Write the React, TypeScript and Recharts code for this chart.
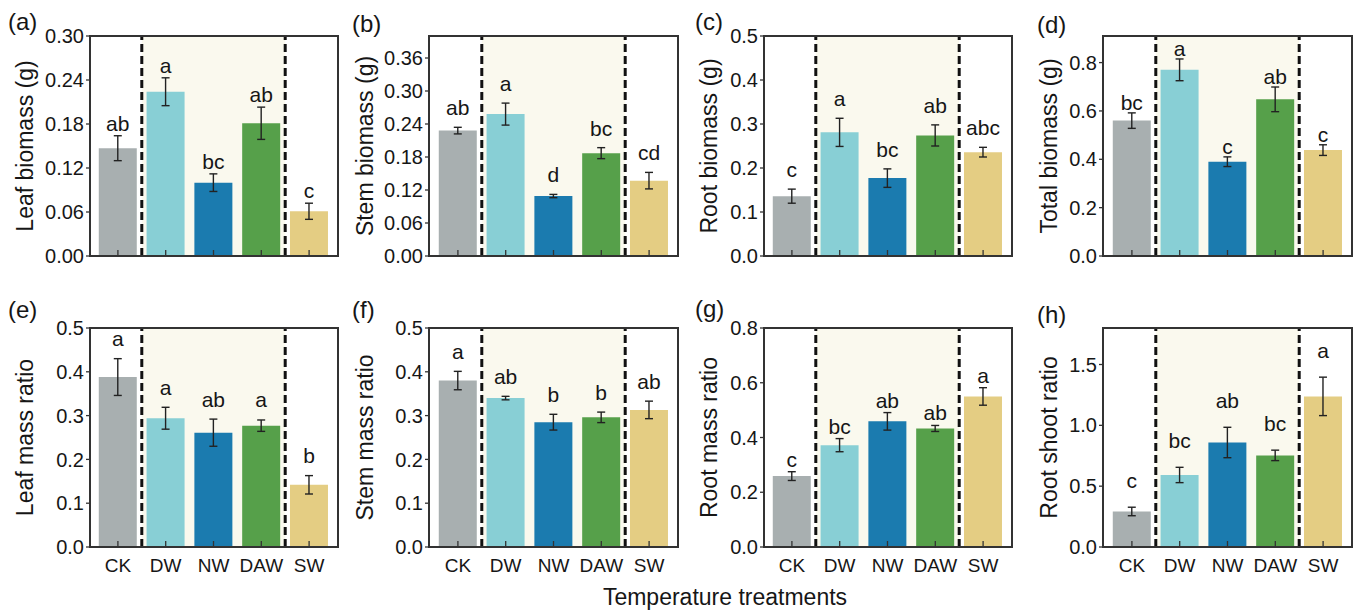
import React from 'react';
import {
  BarChart,
  Bar,
  XAxis,
  YAxis,
  ErrorBar,
  Cell,
  ReferenceLine,
  ReferenceArea,
  LabelList,
} from 'recharts';

// ---------- data ----------
const categories = ['CK', 'DW', 'NW', 'DAW', 'SW'];
const barColors = ['#A8AFB0', '#88CFD5', '#1B7BAF', '#56A04A', '#E4CD83'];

const leafBiomass = [0.147, 0.224, 0.1, 0.181, 0.061];
const leafBiomassErr = [0.017, 0.019, 0.012, 0.022, 0.011];
const leafBiomassLetters = ['ab', 'a', 'bc', 'ab', 'c'];
const leafBiomassTicks = [0, 0.06, 0.12, 0.18, 0.24, 0.3];

const stemBiomass = [0.228, 0.258, 0.109, 0.187, 0.137];
const stemBiomassErr = [0.006, 0.02, 0.003, 0.01, 0.015];
const stemBiomassLetters = ['ab', 'a', 'd', 'bc', 'cd'];
const stemBiomassTicks = [0, 0.06, 0.12, 0.18, 0.24, 0.3, 0.36];

const rootBiomass = [0.136, 0.281, 0.177, 0.274, 0.236];
const rootBiomassErr = [0.016, 0.032, 0.021, 0.024, 0.011];
const rootBiomassLetters = ['c', 'a', 'bc', 'ab', 'abc'];
const rootBiomassTicks = [0, 0.1, 0.2, 0.3, 0.4, 0.5];

const totalBiomass = [0.56, 0.77, 0.39, 0.648, 0.438];
const totalBiomassErr = [0.032, 0.045, 0.02, 0.051, 0.022];
const totalBiomassLetters = ['bc', 'a', 'c', 'ab', 'c'];
const totalBiomassTicks = [0, 0.2, 0.4, 0.6, 0.8];

const leafMassRatio = [0.388, 0.294, 0.261, 0.277, 0.142];
const leafMassRatioErr = [0.042, 0.025, 0.031, 0.013, 0.021];
const leafMassRatioLetters = ['a', 'a', 'ab', 'a', 'b'];
const leafMassRatioTicks = [0, 0.1, 0.2, 0.3, 0.4, 0.5];

const stemMassRatio = [0.38, 0.34, 0.285, 0.296, 0.313];
const stemMassRatioErr = [0.021, 0.004, 0.018, 0.012, 0.02];
const stemMassRatioLetters = ['a', 'ab', 'b', 'b', 'ab'];
const stemMassRatioTicks = [0, 0.1, 0.2, 0.3, 0.4, 0.5];

const rootMassRatio = [0.259, 0.372, 0.459, 0.433, 0.55];
const rootMassRatioErr = [0.016, 0.024, 0.032, 0.011, 0.032];
const rootMassRatioLetters = ['c', 'bc', 'ab', 'ab', 'a'];
const rootMassRatioTicks = [0, 0.2, 0.4, 0.6, 0.8];

const rootShootRatio = [0.292, 0.592, 0.859, 0.753, 1.238];
const rootShootRatioErr = [0.035, 0.063, 0.125, 0.043, 0.158];
const rootShootRatioLetters = ['c', 'bc', 'ab', 'bc', 'a'];
const rootShootRatioTicks = [0, 0.5, 1.0, 1.5];

const xTitle = 'Temperature treatments';

// ---------- styles ----------
const FONT = '"Liberation Sans", Arial, "Helvetica", sans-serif';
const TEXT = '#161616';
const FRAME = '#333333';
const SHADE = '#FAF9EE';

type Panel = {
  tag: string;
  ylabel: string;
  mean: number[];
  err: number[];
  letters: string[];
  ticks: number[];
  max: number;
  digits: number;
  left: number;
  top: number;
  width: number;
  height: number;
  letterGap: number;
  yLabelOffset: number;
  tagX: number;
  tagY: number;
  showX: boolean;
  padL: number;
  padR: number;
};

const colLeft = [90, 429, 764, 1103];
const colWidth = [248, 249, 248, 249];
const rowTop = [36, 328];
const rowHeight = [220, 219];

const panels: Panel[] = [
  { tag: '(a)', ylabel: 'Leaf biomass (g)', mean: leafBiomass, err: leafBiomassErr, letters: leafBiomassLetters, ticks: leafBiomassTicks, max: 0.3, digits: 2, left: colLeft[0], top: rowTop[0], width: colWidth[0], height: rowHeight[0], letterGap: 5, yLabelOffset: 57, tagX: 8, tagY: 30, showX: false, padL: 4, padR: 5 },
  { tag: '(b)', ylabel: 'Stem biomass (g)', mean: stemBiomass, err: stemBiomassErr, letters: stemBiomassLetters, ticks: stemBiomassTicks, max: 0.4, digits: 2, left: colLeft[1], top: rowTop[0], width: colWidth[1], height: rowHeight[0], letterGap: 12, yLabelOffset: 56, tagX: 352, tagY: 32, showX: false, padL: 5, padR: 5 },
  { tag: '(c)', ylabel: 'Root biomass (g)', mean: rootBiomass, err: rootBiomassErr, letters: rootBiomassLetters, ticks: rootBiomassTicks, max: 0.5, digits: 1, left: colLeft[2], top: rowTop[0], width: colWidth[2], height: rowHeight[0], letterGap: 12, yLabelOffset: 47, tagX: 695, tagY: 30, showX: false, padL: 4, padR: 5 },
  { tag: '(d)', ylabel: 'Total biomass (g)', mean: totalBiomass, err: totalBiomassErr, letters: totalBiomassLetters, ticks: totalBiomassTicks, max: 0.91, digits: 1, left: colLeft[3], top: rowTop[0], width: colWidth[3], height: rowHeight[0], letterGap: 3, yLabelOffset: 46, tagX: 1037, tagY: 33, showX: false, padL: 5, padR: 5 },
  { tag: '(e)', ylabel: 'Leaf mass ratio', mean: leafMassRatio, err: leafMassRatioErr, letters: leafMassRatioLetters, ticks: leafMassRatioTicks, max: 0.5, digits: 1, left: colLeft[0], top: rowTop[1], width: colWidth[0], height: rowHeight[1], letterGap: 12.5, yLabelOffset: 57, tagX: 8, tagY: 318, showX: true, padL: 4, padR: 5 },
  { tag: '(f)', ylabel: 'Stem mass ratio', mean: stemMassRatio, err: stemMassRatioErr, letters: stemMassRatioLetters, ticks: stemMassRatioTicks, max: 0.5, digits: 1, left: colLeft[1], top: rowTop[1], width: colWidth[1], height: rowHeight[1], letterGap: 12.5, yLabelOffset: 56, tagX: 352, tagY: 318, showX: true, padL: 5, padR: 5 },
  { tag: '(g)', ylabel: 'Root mass ratio', mean: rootMassRatio, err: rootMassRatioErr, letters: rootMassRatioLetters, ticks: rootMassRatioTicks, max: 0.8, digits: 1, left: colLeft[2], top: rowTop[1], width: colWidth[2], height: rowHeight[1], letterGap: 5, yLabelOffset: 47, tagX: 695, tagY: 317, showX: true, padL: 4, padR: 5 },
  { tag: '(h)', ylabel: 'Root shoot ratio', mean: rootShootRatio, err: rootShootRatioErr, letters: rootShootRatioLetters, ticks: rootShootRatioTicks, max: 1.8, digits: 1, left: colLeft[3], top: rowTop[1], width: colWidth[3], height: rowHeight[1], letterGap: 19, yLabelOffset: 46, tagX: 1037, tagY: 323, showX: true, padL: 5, padR: 5 },
];

const AXIS_W = 80;
const MT = 10;
const MR = 6;

function PanelChart({ p }: { p: Panel }) {
  const data = categories.map((c, i) => ({
    cat: c,
    mean: p.mean[i],
    err: p.err[i],
    letter: p.letters[i],
  }));
  const xh = p.showX ? 40 : 12;
  const w = AXIS_W + p.width + MR;
  const h = MT + p.height + xh;

  const renderLetter = (props: any) => {
    const vb = props.viewBox && props.viewBox.width != null ? props.viewBox : props;
    const idx = props.index;
    const row = data[idx];
    if (!row) return null;
    const k = vb.height / row.mean;
    const top = vb.y - row.err * k - p.letterGap;
    return (
      <text
        x={vb.x + vb.width / 2}
        y={top}
        textAnchor="middle"
        fontSize={21}
        fontFamily={FONT}
        fill={TEXT}
      >
        {row.letter}
      </text>
    );
  };

  const renderYLabel = (props: any) => {
    const vb = props.viewBox || {};
    const x = vb.x + vb.width - p.yLabelOffset;
    const y = vb.y + vb.height / 2;
    return (
      <text
        x={x}
        y={y}
        transform={`rotate(-90, ${x}, ${y})`}
        textAnchor="middle"
        fontSize={23}
        fontFamily={FONT}
        fill={TEXT}
      >
        {p.ylabel}
      </text>
    );
  };

  const XTick = (props: any) => {
    const { x, y, payload } = props;
    return (
      <g>
        <line x1={x} x2={x} y1={y} y2={y - 6} stroke={FRAME} strokeWidth={1.3} />
        {p.showX && (
          <text x={x} y={y + 25} textAnchor="middle" fontSize={19} fontFamily={FONT} fill={TEXT}>
            {payload.value}
          </text>
        )}
      </g>
    );
  };

  return (
    <div style={{ position: 'absolute', left: p.left - AXIS_W, top: p.top - MT }}>
      <BarChart
        width={w}
        height={h}
        data={data}
        margin={{ top: MT, right: MR, left: 0, bottom: 0 }}
        barCategoryGap="10%"
      >
        <ReferenceArea x1="DW" x2="DAW" fill={SHADE} fillOpacity={1} stroke="none" ifOverflow="visible" />
        <Bar dataKey="mean" isAnimationActive={false}>
          {data.map((d, i) => (
            <Cell key={d.cat} fill={barColors[i]} />
          ))}
          <ErrorBar dataKey="err" width={4} strokeWidth={1.4} stroke="#222" direction="y" />
          <LabelList dataKey="letter" content={renderLetter} />
        </Bar>
        <ReferenceLine x="DW" position="start" stroke="#111" strokeWidth={3} strokeDasharray="8 4" />
        <ReferenceLine x="SW" position="start" stroke="#111" strokeWidth={3} strokeDasharray="8 4" />
        <XAxis
          dataKey="cat"
          height={xh}
          padding={{ left: p.padL, right: p.padR }}
          tickLine={false}
          tickSize={0}
          tickMargin={0}
          tick={XTick}
          interval={0}
          axisLine={{ stroke: FRAME, strokeWidth: 1.5 }}
        />
        <YAxis
          width={AXIS_W}
          type="number"
          domain={[0, p.max]}
          ticks={p.ticks}
          interval={0}
          tickFormatter={(v: number) => v.toFixed(p.digits)}
          tickSize={4}
          tickMargin={2}
          tickLine={{ stroke: FRAME, strokeWidth: 1.3 }}
          axisLine={{ stroke: FRAME, strokeWidth: 1.5 }}
          tick={{ fontSize: 20, fill: TEXT, fontFamily: FONT }}
          label={renderYLabel}
        />
      </BarChart>
    </div>
  );
}

export default function App() {
  return (
    <div
      style={{
        position: 'absolute',
        left: 0,
        top: 0,
        width: 1357,
        height: 613,
        background: '#ffffff',
        overflow: 'hidden',
        fontFamily: FONT,
      }}
    >
      {panels.map((p) => (
        <PanelChart key={p.tag} p={p} />
      ))}
      {panels.map((p) => (
        <div
          key={`frame-${p.tag}`}
          style={{
            position: 'absolute',
            left: p.left - 1,
            top: p.top - 1,
            width: p.width - 2,
            height: p.height - 2,
            border: `2px solid ${FRAME}`,
            boxSizing: 'content-box',
            pointerEvents: 'none',
          }}
        />
      ))}
      <svg
        width={1357}
        height={613}
        style={{ position: 'absolute', left: 0, top: 0, pointerEvents: 'none' }}
      >
        {panels.map((p) => (
          <text key={p.tag} x={p.tagX} y={p.tagY} fontSize={24} fontFamily={FONT} fill={TEXT}>
            {p.tag}
          </text>
        ))}
        <text x={725} y={605} textAnchor="middle" fontSize={23} fontFamily={FONT} fill={TEXT}>
          {xTitle}
        </text>
      </svg>
    </div>
  );
}
